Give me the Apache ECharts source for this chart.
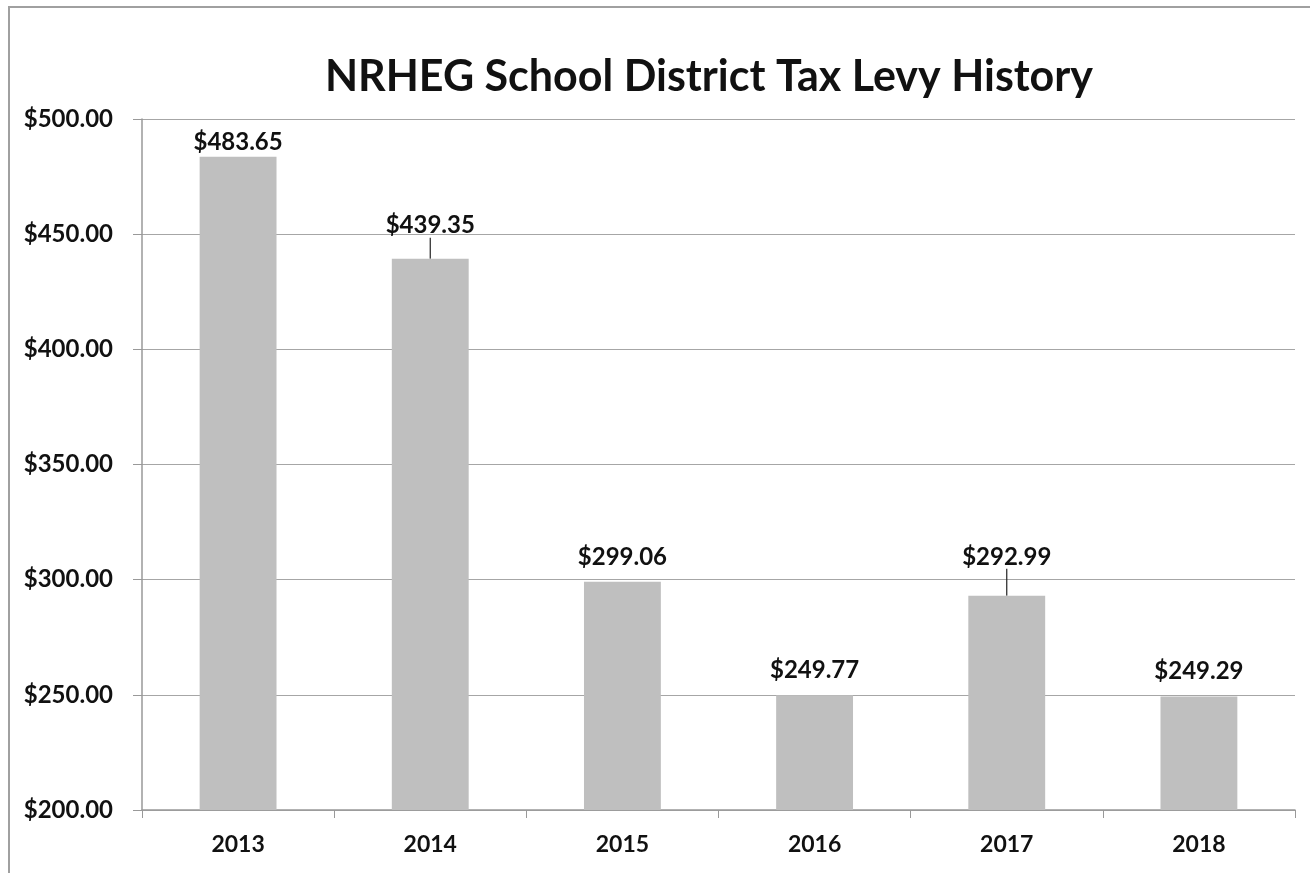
<!DOCTYPE html>
<html>
<head>
<meta charset="utf-8">
<script src="https://cdn.jsdelivr.net/npm/echarts@6/dist/echarts.min.js"></script>
<style>
html,body{margin:0;padding:0;background:#fff;}
#frame{position:absolute;left:8px;top:6px;width:1320px;height:880px;border:2px solid #a0a0a0;box-sizing:border-box;}
#chart{position:absolute;left:0;top:0;width:1310px;height:873px;}
</style>
</head>
<body>
<div id="frame"></div>
<div id="chart"></div>
<script>
const categories = ['2013', '2014', '2015', '2016', '2017', '2018'];
const levyValues = [483.65, 439.35, 299.06, 249.77, 292.99, 249.29];
const yTicks = [200, 250, 300, 350, 400, 450, 500];

const chart = echarts.init(document.getElementById('chart'), null, {renderer: 'canvas'});
const fontFam = 'Lato, "Open Sans", sans-serif';
const labelDy = {0: 11, 1: -8, 4: -14};
const withLeader = [1, 4];

const seriesData = levyValues.map((v, i) => ({
  value: v,
  labelLine: {show: withLeader.indexOf(i) >= 0}
}));

chart.setOption({
  backgroundColor: 'transparent',
  animation: false,
  title: {
    text: 'NRHEG School District Tax Levy History',
    left: 704, top: 51, textAlign: 'center',
    textStyle: {fontFamily: fontFam, fontSize: 43, fontWeight: 'bold', color: '#111'}
  },
  grid: {left: 142, right: 15, top: 119, bottom: 63, containLabel: false},
  xAxis: {
    type: 'category',
    data: categories,
    axisLine: {show: true, lineStyle: {color: '#999', width: 1.5}},
    axisTick: {show: true, length: 8, lineStyle: {color: '#999'}},
    axisLabel: {fontFamily: fontFam, fontSize: 23, fontWeight: 'bold', color: '#111', margin: 23}
  },
  yAxis: {
    type: 'value',
    min: 200, max: 500, interval: 50,
    axisLine: {show: true, lineStyle: {color: '#999', width: 1.5}},
    axisTick: {show: true, length: 9, lineStyle: {color: '#999'}},
    splitLine: {show: true, lineStyle: {color: '#a6a6a6', width: 1.2}},
    axisLabel: {
      fontFamily: fontFam, fontSize: 24, fontWeight: 'bold', color: '#111', margin: 29,
      formatter: v => '$' + v.toFixed(2)
    }
  },
  series: [{
    type: 'bar',
    data: seriesData,
    barWidth: '40%',
    itemStyle: {color: '#bfbfbf'},
    label: {
      show: true, position: 'top', distance: 13,
      fontFamily: fontFam, fontSize: 24, fontWeight: 'bold', color: '#111',
      formatter: p => '$' + p.value.toFixed(2)
    },
    labelLayout: function (params) {
      if (labelDy[params.dataIndex] !== undefined) {
        return {dy: labelDy[params.dataIndex]};
      }
      return {};
    },
    labelLine: {show: false, lineStyle: {color: '#222', width: 1.2}}
  }]
});
</script>
</body>
</html>
